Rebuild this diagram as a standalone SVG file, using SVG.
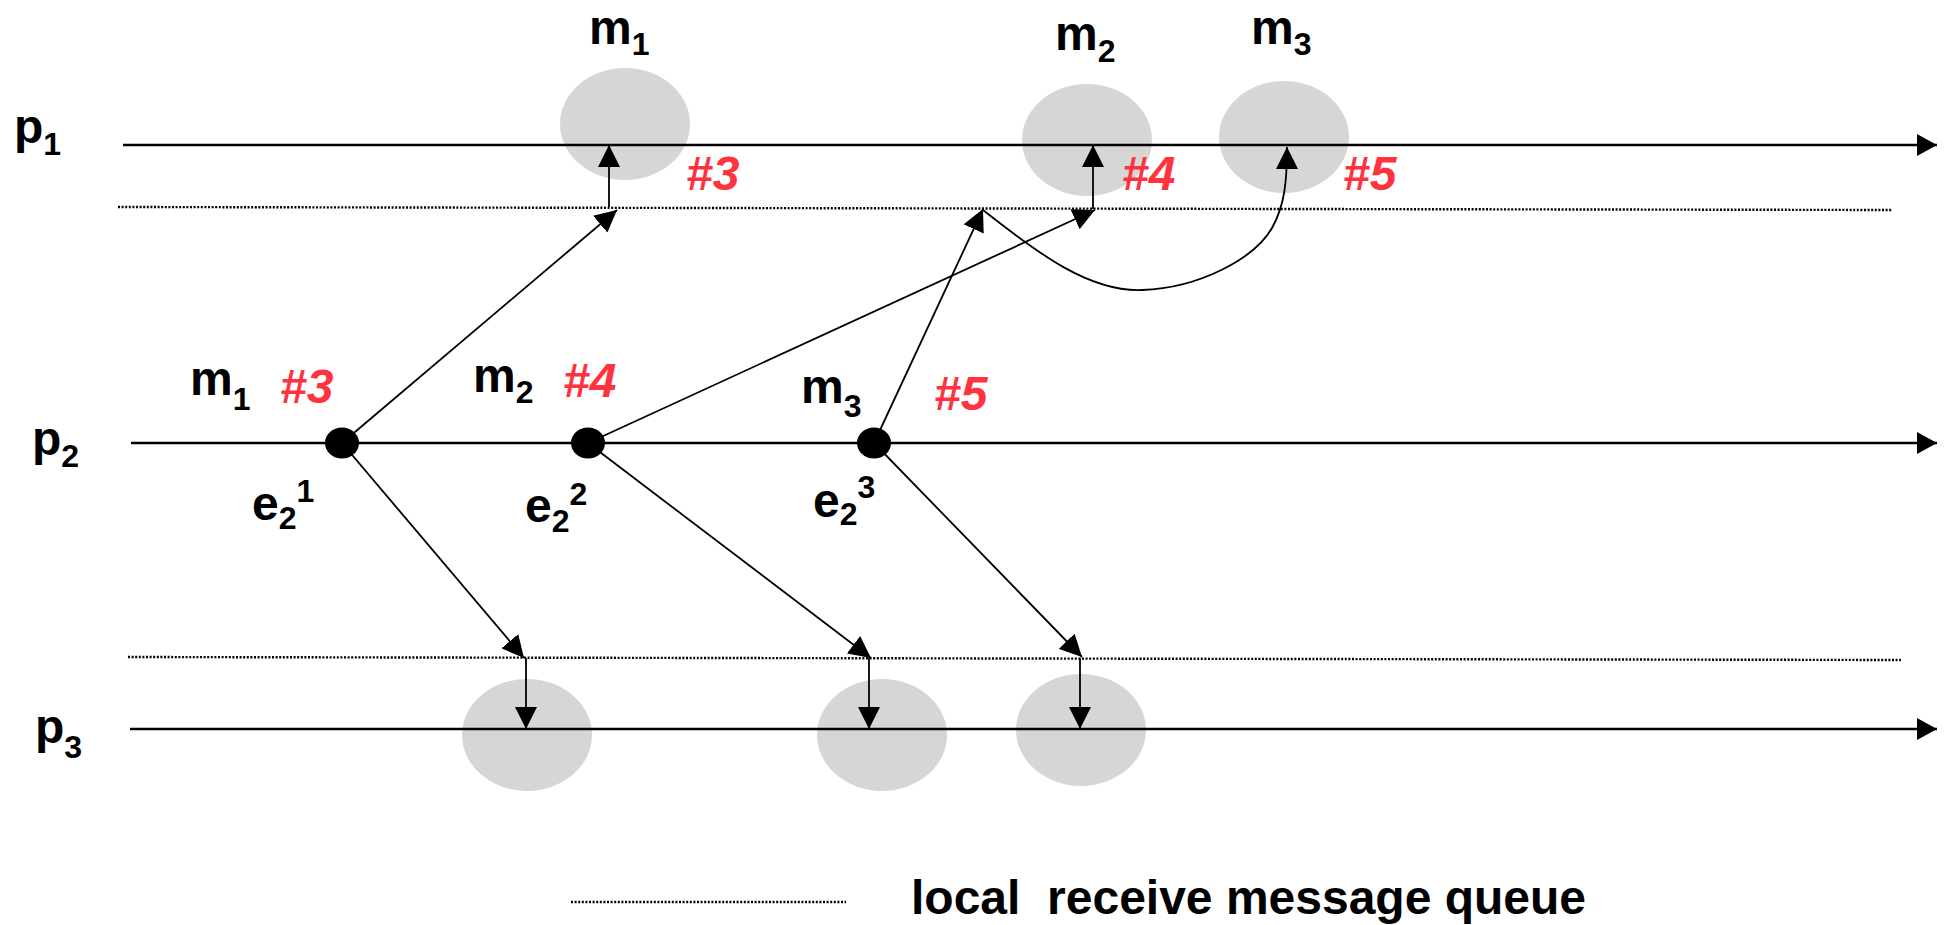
<svg xmlns="http://www.w3.org/2000/svg" width="1945" height="925" viewBox="0 0 1945 925">
<style>
.t{font-family:"Liberation Sans",Arial,sans-serif;font-weight:bold;font-size:48px;fill:#000}
.s{font-size:32px}
.r{font-family:"Liberation Sans",Arial,sans-serif;font-weight:bold;font-style:italic;font-size:48px;fill:#ff333f}
.proc{stroke:#000;stroke-width:2.6;fill:none}
.dot{stroke:#000;stroke-width:2.4;stroke-dasharray:2 1.6;fill:none}
.msg{stroke:#000;stroke-width:1.8;fill:none}
.q{fill:#d6d6d6}
</style>
<defs>
<marker id="ah" viewBox="0 0 22 22" refX="22" refY="11" markerWidth="22" markerHeight="22" markerUnits="userSpaceOnUse" orient="auto">
<path d="M0,0 L22,11 L0,22 z" fill="#000"/>
</marker>
<marker id="ahp" viewBox="0 0 20 22" refX="20" refY="11" markerWidth="20" markerHeight="22" markerUnits="userSpaceOnUse" orient="auto">
<path d="M0,0 L20,11 L0,22 z" fill="#000"/>
</marker>
</defs>

<g id="queues">
<ellipse class="q" cx="625" cy="124" rx="65" ry="56"/>
<ellipse class="q" cx="1087" cy="140" rx="65" ry="56"/>
<ellipse class="q" cx="1284" cy="137" rx="65" ry="56"/>
<ellipse class="q" cx="527" cy="735" rx="65" ry="56"/>
<ellipse class="q" cx="882" cy="735" rx="65" ry="56"/>
<ellipse class="q" cx="1081" cy="730" rx="65" ry="56"/>
</g>

<g id="process-p1">
<line class="proc" x1="123" y1="145" x2="1937" y2="145" marker-end="url(#ahp)"/>
<line class="dot" x1="118" y1="207" x2="1892" y2="210"/>
<text class="t" x="14" y="143">p<tspan class="s" dy="12">1</tspan></text>
</g>
<g id="process-p2">
<line class="proc" x1="131" y1="443" x2="1937" y2="443" marker-end="url(#ahp)"/>
<text class="t" x="32" y="455">p<tspan class="s" dy="12">2</tspan></text>
</g>
<g id="process-p3">
<line class="dot" x1="128" y1="657" x2="1901" y2="660"/>
<line class="proc" x1="130" y1="729" x2="1937" y2="729" marker-end="url(#ahp)"/>
<text class="t" x="35" y="743">p<tspan class="s" dy="15">3</tspan></text>
</g>

<g id="connectors">
<line class="msg" x1="342" y1="443" x2="617" y2="210" marker-end="url(#ah)"/>
<line class="msg" x1="609" y1="207" x2="609" y2="145" marker-end="url(#ah)"/>
<line class="msg" x1="588" y1="443" x2="1095" y2="210" marker-end="url(#ah)"/>
<line class="msg" x1="1093" y1="209" x2="1093" y2="145" marker-end="url(#ah)"/>
<line class="msg" x1="874" y1="443" x2="983" y2="209" marker-end="url(#ah)"/>
<path class="msg" d="M983,210 C1040,255 1090,292 1142,290 C1200,288 1255,258 1272,228 C1285,205 1287,180 1287,147" marker-end="url(#ah)"/>
<line class="msg" x1="342" y1="443" x2="524" y2="658" marker-end="url(#ah)"/>
<line class="msg" x1="526" y1="658" x2="526" y2="729" marker-end="url(#ah)"/>
<line class="msg" x1="588" y1="443" x2="871" y2="658" marker-end="url(#ah)"/>
<line class="msg" x1="869" y1="658" x2="869" y2="729" marker-end="url(#ah)"/>
<line class="msg" x1="874" y1="443" x2="1082" y2="657" marker-end="url(#ah)"/>
<line class="msg" x1="1080" y1="658" x2="1080" y2="729" marker-end="url(#ah)"/>
</g>

<g id="event-e21">
<ellipse cx="342" cy="443" rx="17" ry="15.5" fill="#000"/>
<text class="t" x="252" y="520">e<tspan class="s" dy="9">2</tspan><tspan class="s" dy="-27">1</tspan></text>
<text class="t" x="190" y="395">m<tspan class="s" dy="15">1</tspan></text>
<text class="r" x="280" y="403">#3</text>
</g>
<g id="event-e22">
<ellipse cx="588" cy="443" rx="17" ry="15.5" fill="#000"/>
<text class="t" x="525" y="522">e<tspan class="s" dy="10">2</tspan><tspan class="s" dy="-27">2</tspan></text>
<text class="t" x="473" y="392">m<tspan class="s" dy="11">2</tspan></text>
<text class="r" x="563" y="397">#4</text>
</g>
<g id="event-e23">
<ellipse cx="874" cy="443" rx="17" ry="15.5" fill="#000"/>
<text class="t" x="813" y="517">e<tspan class="s" dy="8">2</tspan><tspan class="s" dy="-27">3</tspan></text>
<text class="t" x="801" y="403">m<tspan class="s" dy="14">3</tspan></text>
<text class="r" x="934" y="410">#5</text>
</g>

<g id="receive-labels">
<text class="t" x="589" y="44">m<tspan class="s" dy="11">1</tspan></text>
<text class="r" x="686" y="190">#3</text>
<text class="t" x="1055" y="50">m<tspan class="s" dy="12">2</tspan></text>
<text class="r" x="1122" y="190">#4</text>
<text class="t" x="1251" y="44">m<tspan class="s" dy="11">3</tspan></text>
<text class="r" x="1343" y="190">#5</text>
</g>

<g id="legend">
<line class="dot" x1="571" y1="902" x2="846" y2="902"/>
<text class="t" x="911" y="914" xml:space="preserve">local  receive message queue</text>
</g>
</svg>
